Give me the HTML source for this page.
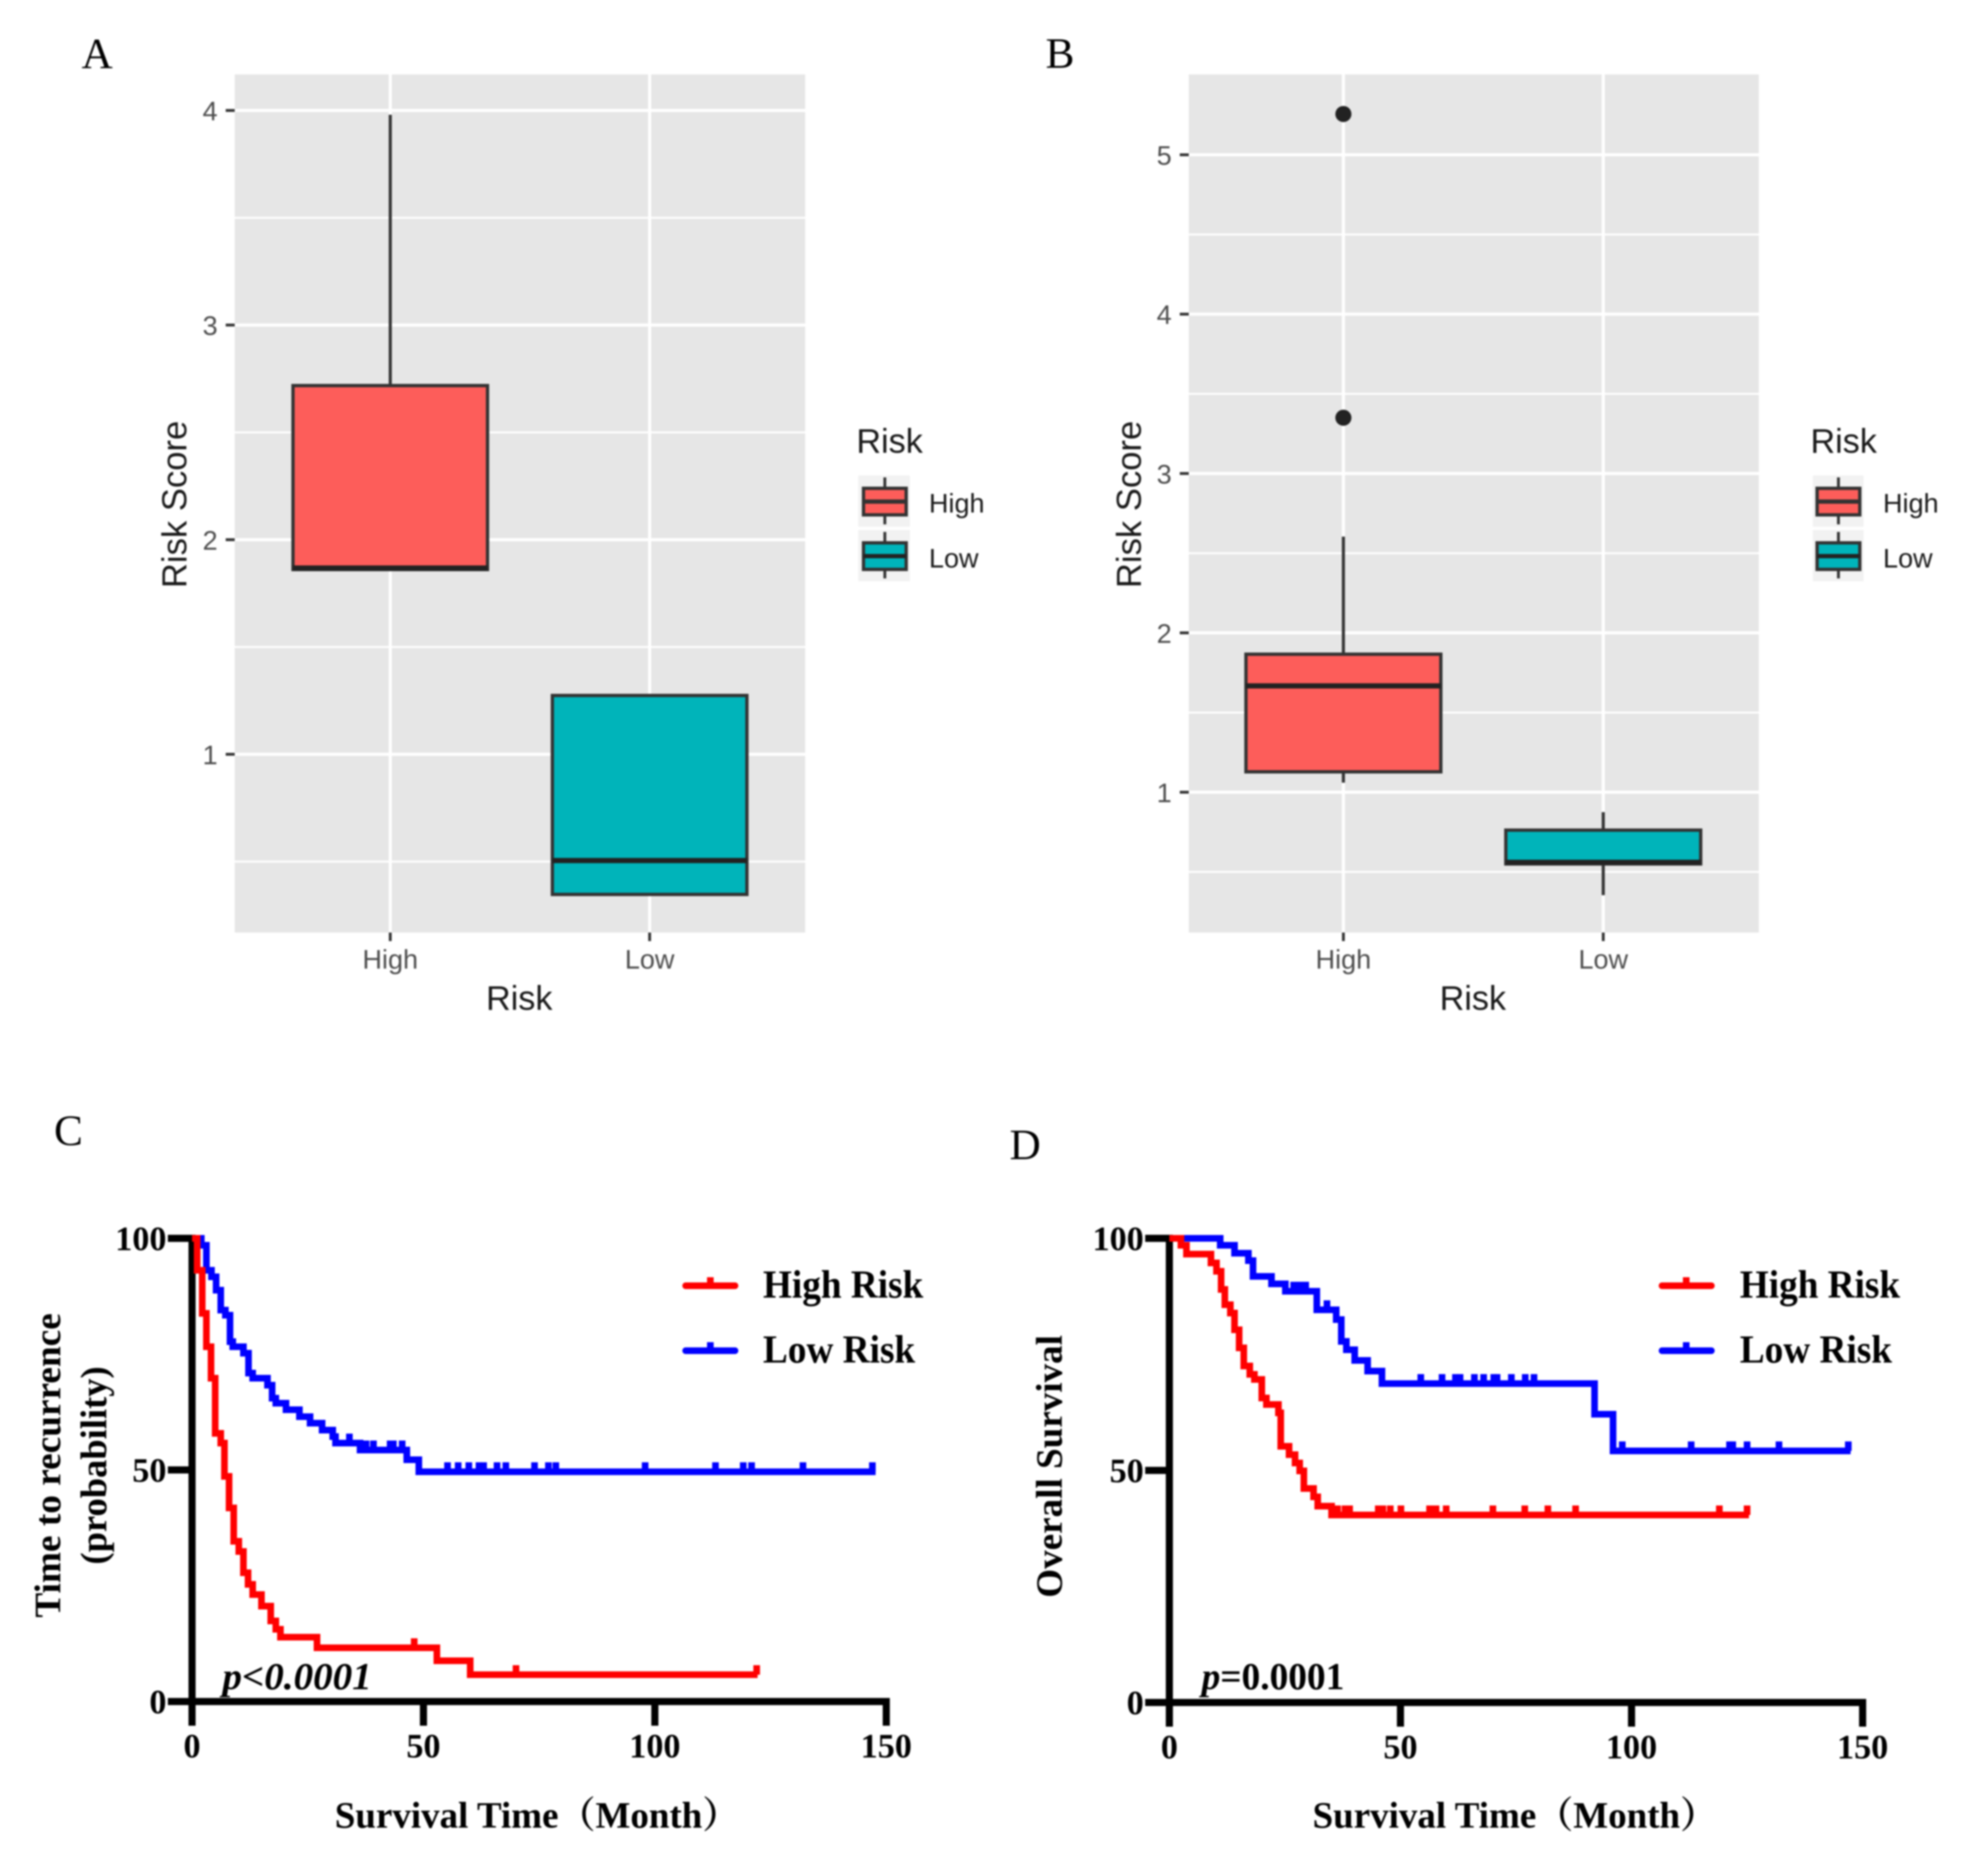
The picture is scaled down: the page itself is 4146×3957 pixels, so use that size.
<!DOCTYPE html>
<html lang="en">
<head>
<meta charset="utf-8">
<title>Risk score boxplots and survival curves</title>
<style>
html,body{margin:0;padding:0;background:#fff;width:4146px;height:3957px;overflow:hidden}
svg{display:block;filter:blur(1.9px)}
.gg{font-family:"Liberation Sans",sans-serif}
.tm{font-family:"Liberation Serif","Noto Serif CJK SC",serif}
.b{font-weight:bold;fill:#000}
</style>
</head>
<body>
<svg id="fig" xmlns="http://www.w3.org/2000/svg" width="4146" height="3957" viewBox="0 0 4146 3957">
  <rect x="0" y="0" width="4146" height="3957" fill="#fff"/>

  <!-- Panel letters -->
  <text class="tm" x="172" y="144" font-size="91" fill="#000">A</text>
  <text class="tm" x="2205" y="143" font-size="91" fill="#000">B</text>
  <text class="tm" x="114" y="2415" font-size="91" fill="#000">C</text>
  <text class="tm" x="2129" y="2445" font-size="91" fill="#000">D</text>

  <!-- Panel A -->
  <g id="panel-a">
    <rect x="495" y="157" width="1203" height="1810" fill="#e6e6e6"/>
    <g id="a-plot"></g>
    <text class="gg" transform="translate(393,1064) rotate(-90)" text-anchor="middle" font-size="73" fill="#1a1a1a">Risk Score</text>
    <text class="gg" x="1095" y="2130" text-anchor="middle" font-size="72" fill="#1a1a1a">Risk</text>
    <g>
      <text class="gg" x="1806" y="955" font-size="72" fill="#1a1a1a">Risk</text>
      <g>
        <rect x="1810" y="1003" width="109" height="108" fill="#f2f2f2"/>
        <line x1="1866" x2="1866" y1="1007" y2="1106" stroke="#333" stroke-width="6"/>
        <rect x="1821" y="1030" width="90" height="56" fill="#fd5d5a" stroke="#333" stroke-width="7"/>
        <line x1="1821" x2="1911" y1="1058" y2="1058" stroke="#333" stroke-width="9"/>
        <text class="gg" x="1959" y="1081" font-size="57" fill="#1a1a1a">High</text>
      </g>
      <g>
        <rect x="1810" y="1118" width="109" height="108" fill="#f2f2f2"/>
        <line x1="1866" x2="1866" y1="1122" y2="1220" stroke="#333" stroke-width="6"/>
        <rect x="1821" y="1145" width="90" height="56" fill="#00b4ba" stroke="#333" stroke-width="7"/>
        <line x1="1821" x2="1911" y1="1173" y2="1173" stroke="#222" stroke-width="9"/>
        <text class="gg" x="1959" y="1197" font-size="57" fill="#1a1a1a">Low</text>
      </g>
    </g>
  </g>

  <!-- Panel B -->
  <g id="panel-b">
    <rect x="2507" y="157" width="1202" height="1810" fill="#e6e6e6"/>
    <g id="b-plot"></g>
    <text class="gg" transform="translate(2406,1064) rotate(-90)" text-anchor="middle" font-size="73" fill="#1a1a1a">Risk Score</text>
    <text class="gg" x="3106" y="2130" text-anchor="middle" font-size="72" fill="#1a1a1a">Risk</text>
    <g>
      <text class="gg" x="3818" y="955" font-size="72" fill="#1a1a1a">Risk</text>
      <g>
        <rect x="3823" y="1003" width="107" height="108" fill="#f2f2f2"/>
        <line x1="3877" x2="3877" y1="1007" y2="1106" stroke="#333" stroke-width="6"/>
        <rect x="3832" y="1030" width="90" height="56" fill="#fd5d5a" stroke="#333" stroke-width="7"/>
        <line x1="3832" x2="3922" y1="1058" y2="1058" stroke="#333" stroke-width="9"/>
        <text class="gg" x="3971" y="1081" font-size="57" fill="#1a1a1a">High</text>
      </g>
      <g>
        <rect x="3823" y="1118" width="107" height="108" fill="#f2f2f2"/>
        <line x1="3877" x2="3877" y1="1122" y2="1220" stroke="#333" stroke-width="6"/>
        <rect x="3832" y="1145" width="90" height="56" fill="#00b4ba" stroke="#333" stroke-width="7"/>
        <line x1="3832" x2="3922" y1="1173" y2="1173" stroke="#222" stroke-width="9"/>
        <text class="gg" x="3971" y="1197" font-size="57" fill="#1a1a1a">Low</text>
      </g>
    </g>
  </g>

  <!-- Panel C -->
  <g id="panel-c">
    <g id="c-plot"></g>
    <text class="tm b" transform="translate(127,3091) rotate(-90)" text-anchor="middle" font-size="78" textLength="642" lengthAdjust="spacingAndGlyphs">Time to recurrence</text>
    <text class="tm b" transform="translate(224,3091) rotate(-90)" text-anchor="middle" font-size="78" textLength="418" lengthAdjust="spacingAndGlyphs">(probability)</text>
    <text class="tm b" x="706" y="3855" font-size="78">Survival Time（Month）</text>
    <text class="tm b" x="469" y="3563" font-size="80" font-style="italic" textLength="315" lengthAdjust="spacingAndGlyphs">p&lt;0.0001</text>
    <g>
      <g>
        <line x1="1446" x2="1550" y1="2712" y2="2712" stroke="#f00" stroke-width="14" stroke-linecap="round"/>
        <line x1="1498" x2="1498" y1="2694" y2="2712" stroke="#f00" stroke-width="14"/>
        <text class="tm b" x="1609" y="2737" font-size="84" textLength="338" lengthAdjust="spacingAndGlyphs">High Risk</text>
      </g>
      <g>
        <line x1="1446" x2="1550" y1="2849" y2="2849" stroke="#00f" stroke-width="14" stroke-linecap="round"/>
        <line x1="1498" x2="1498" y1="2831" y2="2849" stroke="#00f" stroke-width="14"/>
        <text class="tm b" x="1609" y="2874" font-size="84" textLength="321" lengthAdjust="spacingAndGlyphs">Low Risk</text>
      </g>
    </g>
  </g>

  <!-- Panel D -->
  <g id="panel-d">
    <g id="d-plot"></g>
    <text class="tm b" transform="translate(2239,3093) rotate(-90)" text-anchor="middle" font-size="78" textLength="554" lengthAdjust="spacingAndGlyphs">Overall Survival</text>
    <text class="tm b" x="2768" y="3855" font-size="78">Survival Time（Month）</text>
    <text class="tm b" x="2534" y="3563" font-size="80" textLength="301" lengthAdjust="spacingAndGlyphs"><tspan font-style="italic">p</tspan>=0.0001</text>
    <g>
      <g>
        <line x1="3505" x2="3609" y1="2712" y2="2712" stroke="#f00" stroke-width="14" stroke-linecap="round"/>
        <line x1="3556" x2="3556" y1="2694" y2="2712" stroke="#f00" stroke-width="14"/>
        <text class="tm b" x="3669" y="2737" font-size="84" textLength="338" lengthAdjust="spacingAndGlyphs">High Risk</text>
      </g>
      <g>
        <line x1="3505" x2="3609" y1="2849" y2="2849" stroke="#00f" stroke-width="14" stroke-linecap="round"/>
        <line x1="3556" x2="3556" y1="2831" y2="2849" stroke="#00f" stroke-width="14"/>
        <text class="tm b" x="3669" y="2874" font-size="84" textLength="321" lengthAdjust="spacingAndGlyphs">Low Risk</text>
      </g>
    </g>
  </g>
</svg>

<script>
// ---------- Box plot data ----------
const boxCategories = ['High', 'Low'];

const aQ1 = [1.861, 0.347];
const aMedian = [1.868, 0.505];
const aQ3 = [2.718, 1.274];
const aWhiskerLow = [1.861, 0.347];
const aWhiskerHigh = [3.98, 1.274];
const aOutliers = [[], []];
const aMajorTicks = [1, 2, 3, 4];
const aMinorTicks = [0.5, 1.5, 2.5, 3.5];

const bQ1 = [1.128, 0.55];
const bMedian = [1.667, 0.56];
const bQ3 = [1.866, 0.762];
const bWhiskerLow = [1.06, 0.354];
const bWhiskerHigh = [2.604, 0.875];
const bOutliers = [[5.256, 3.35], []];
const bMajorTicks = [1, 2, 3, 4, 5];
const bMinorTicks = [0.5, 1.5, 2.5, 3.5, 4.5];

// ---------- Survival curve data ----------
const kmYTicks = [0, 50, 100];
const kmXTicks = [0, 50, 100, 150];

const cLowTimes = [0, 2, 3.1, 4.2, 5.2, 6.2, 7.2, 8.2, 8.8, 11.1, 12.2, 13.1, 16.3, 17.3, 18.1, 20.3, 23.2, 25.5, 28.1, 30.4, 31, 36.3, 46.4, 49, 147.7];
const cLowSurvival = [100, 98.5, 93.1, 91.7, 88.8, 84.5, 83.4, 77.7, 76.6, 75.2, 70.9, 69.8, 68.3, 65.5, 64.4, 63, 61.5, 60.1, 58.6, 57.2, 55.8, 54.3, 52.2, 49.6, 49.6];
const cLowCensored = [34, 37.6, 39.2, 42.8, 43.5, 45.4, 46.4, 55.2, 57.5, 59.8, 62, 63, 65.9, 67.8, 74, 77, 78.6, 97.9, 113.1, 119.1, 120.9, 132, 147];

const cHighTimes = [0, 1.1, 2.2, 3.1, 4.1, 5, 6.2, 7, 8, 9, 10.1, 11.1, 12.1, 13.1, 15, 17, 18.1, 19.1, 27, 52.9, 60.1, 122.2];
const cHighSurvival = [100, 93.1, 83.8, 76.6, 69.8, 57.9, 55.8, 48.6, 41.8, 34.6, 32.4, 27.8, 25.3, 23.1, 20.6, 17.4, 15.6, 13.9, 11.6, 8.8, 5.8, 5.8];
const cHighCensored = [48, 70, 122];

const dLowTimes = [0, 11, 14.1, 17.1, 18.1, 22.1, 25.1, 31.9, 36.1, 37.2, 38.3, 40.1, 42.9, 46, 92, 96, 147.4];
const dLowSurvival = [100, 98.5, 96.8, 95.2, 91.8, 90.2, 88.6, 84.6, 82.5, 77.8, 76, 73.7, 71.4, 68.7, 62.1, 54.2, 54.2];
const dLowCensored = [26.9, 28.2, 29.5, 34.1, 54.4, 59, 61.9, 62.9, 66, 68, 70.2, 70.9, 74, 77, 78.9, 98, 112.9, 121.2, 121.9, 125, 131.9, 146.9];

const dHighTimes = [0, 2.5, 3.7, 9, 10.2, 11.2, 12, 13.2, 14.1, 15.1, 16.1, 17.4, 18.4, 20, 21, 23.6, 24.1, 25.9, 27.2, 28.2, 29.1, 31.2, 32.1, 35.1, 125.4];
const dHighSurvival = [100, 98.5, 96.6, 94.7, 92.9, 89, 85.7, 83.9, 80.3, 76.4, 72.5, 70.7, 69.6, 65.6, 64.2, 62.4, 55.2, 53.4, 51.6, 49.9, 46.1, 44.3, 42.3, 40.4, 40.4];
const dHighCensored = [36.4, 38, 39, 45.2, 46.2, 47.8, 50.1, 56.3, 57.7, 59.9, 70, 76.9, 81.9, 87.9, 119, 125];

// ---------- Helpers ----------
const SVG_NS = 'http://www.w3.org/2000/svg';

function linearScale(d0, d1, r0, r1) {
  return function (v) { return r0 + (v - d0) * (r1 - r0) / (d1 - d0); };
}

function make(tag, parent, attrs) {
  const node = document.createElementNS(SVG_NS, tag);
  for (const key in attrs) node.setAttribute(key, attrs[key]);
  parent.appendChild(node);
  return node;
}

// ---------- Box plot panel ----------
function drawBoxPanel(panel, s) {
  const root = document.getElementById(panel + '-plot');
  const y = s.y;
  const band = function (i) { return s.xFirst + i * s.bandStep; };

  s.minor.forEach(function (v) {
    const g = make('line', root, { x1: s.left, x2: s.right, y1: y(v), y2: y(v), stroke: '#fff', 'stroke-width': 4 });
    
    
  });
  s.major.forEach(function (v) {
    const g = make('line', root, { x1: s.left, x2: s.right, y1: y(v), y2: y(v), stroke: '#fff', 'stroke-width': 6.5 });
    
    
    const t = make('line', root, { x1: s.left - 19, x2: s.left, y1: y(v), y2: y(v), stroke: '#333', 'stroke-width': 6 });
    
    
    const l = make('text', root, { x: s.left - 36, y: y(v) + 21, 'text-anchor': 'end', 'font-size': 57, fill: '#4d4d4d', class: 'gg' });
    l.textContent = String(v);
    
    
  });

  boxCategories.forEach(function (cat, i) {
    const cx = band(i);
    const key = cat.toLowerCase();
    const vg = make('line', root, { x1: cx, x2: cx, y1: s.top, y2: s.bottom, stroke: '#fff', 'stroke-width': 6.5 });
    
    
    const t = make('line', root, { x1: cx, x2: cx, y1: s.bottom, y2: s.bottom + 18, stroke: '#333', 'stroke-width': 6 });
    
    
    const l = make('text', root, { x: cx, y: 2043, 'text-anchor': 'middle', 'font-size': 57, fill: '#4d4d4d', class: 'gg' });
    l.textContent = cat;
    
    
  });

  boxCategories.forEach(function (cat, i) {
    const cx = band(i);
    const half = s.bandStep * 0.375;
    const key = cat.toLowerCase();
    const fill = i === 0 ? '#fd5d5a' : '#00b4ba';

    const whisker = make('line', root, { x1: cx, x2: cx, y1: y(s.whiskerHigh[i]), y2: y(s.whiskerLow[i]), stroke: '#333', 'stroke-width': 6.5 });
    
    

    const box = make('rect', root, { x: cx - half, width: half * 2, y: y(s.q3[i]), height: y(s.q1[i]) - y(s.q3[i]), fill: fill, stroke: '#333', 'stroke-width': 7 });
    
    

    const median = make('line', root, { x1: cx - half, x2: cx + half, y1: y(s.median[i]), y2: y(s.median[i]), stroke: '#222', 'stroke-width': 11 });
    
    

    s.outliers[i].forEach(function (v, j) {
      const dot = make('circle', root, { cx: cx, cy: y(v), r: 17, fill: '#222' });
      
      
    });
  });
}

// ---------- Survival panel ----------
function survivalAt(times, survival, t) {
  let value = survival[0];
  for (let i = 0; i < times.length; i++) {
    if (times[i] <= t) value = survival[i];
  }
  return value;
}

function drawCurve(root, panel, key, color, times, survival, censored, x, y) {
  let d = 'M' + x(times[0]) + ' ' + y(survival[0]);
  for (let i = 1; i < times.length; i++) {
    d += ' H' + x(times[i]) + ' V' + y(survival[i]);
  }
  const curve = make('path', root, { d: d, fill: 'none', stroke: color, 'stroke-width': 14, 'stroke-linejoin': 'miter' });
  
  

  censored.forEach(function (t, i) {
    const sy = y(survivalAt(times, survival, t));
    const mark = make('line', root, { x1: x(t), x2: x(t), y1: sy - 20, y2: sy, stroke: color, 'stroke-width': 14 });
    
    
  });
}

function drawKmPanel(panel, s) {
  const root = document.getElementById(panel + '-plot');
  const x = s.x;
  const y = s.y;
  const axisW = 15;

  const xAxis = make('line', root, { x1: x(0) - axisW / 2, x2: x(150) + axisW / 2, y1: y(0), y2: y(0), stroke: '#000', 'stroke-width': axisW });
  
  

  const yAxis = make('line', root, { x1: x(0), x2: x(0), y1: y(100) - axisW / 2, y2: y(0) + axisW / 2, stroke: '#000', 'stroke-width': axisW });
  
  

  kmXTicks.forEach(function (v) {
    const t = make('line', root, { x1: x(v), x2: x(v), y1: y(0), y2: y(0) + 51, stroke: '#000', 'stroke-width': axisW });
    
    
    const l = make('text', root, { x: x(v), y: y(0) + 118, 'text-anchor': 'middle', 'font-size': 72, class: 'tm b' });
    l.textContent = String(v);
    
    
  });

  kmYTicks.forEach(function (v) {
    const t = make('line', root, { x1: x(0) - 51, x2: x(0), y1: y(v), y2: y(v), stroke: '#000', 'stroke-width': axisW });
    
    
    const l = make('text', root, { x: x(0) - 54, y: y(v) + 25, 'text-anchor': 'end', 'font-size': 72, class: 'tm b' });
    l.textContent = String(v);
    
    
  });

  drawCurve(root, panel, 'low', '#00f', s.lowTimes, s.lowSurvival, s.lowCensored, x, y);
  drawCurve(root, panel, 'high', '#f00', s.highTimes, s.highSurvival, s.highCensored, x, y);
}

// ---------- Render ----------
drawBoxPanel('a', {
  left: 495, right: 1698, top: 157, bottom: 1967,
  xFirst: 823, bandStep: 547,
  y: linearScale(1, 4, 1591, 233),
  major: aMajorTicks, minor: aMinorTicks,
  q1: aQ1, median: aMedian, q3: aQ3,
  whiskerLow: aWhiskerLow, whiskerHigh: aWhiskerHigh, outliers: aOutliers
});

drawBoxPanel('b', {
  left: 2507, right: 3709, top: 157, bottom: 1967,
  xFirst: 2833, bandStep: 548,
  y: linearScale(1, 5, 1671, 326.5),
  major: bMajorTicks, minor: bMinorTicks,
  q1: bQ1, median: bMedian, q3: bQ3,
  whiskerLow: bWhiskerLow, whiskerHigh: bWhiskerHigh, outliers: bOutliers
});

drawKmPanel('c', {
  x: linearScale(0, 150, 405, 1869),
  y: linearScale(0, 100, 3589, 2612),
  lowTimes: cLowTimes, lowSurvival: cLowSurvival, lowCensored: cLowCensored,
  highTimes: cHighTimes, highSurvival: cHighSurvival, highCensored: cHighCensored
});

drawKmPanel('d', {
  x: linearScale(0, 150, 2466, 3928),
  y: linearScale(0, 100, 3591, 2612),
  lowTimes: dLowTimes, lowSurvival: dLowSurvival, lowCensored: dLowCensored,
  highTimes: dHighTimes, highSurvival: dHighSurvival, highCensored: dHighCensored
});
</script>
</body>
</html>
